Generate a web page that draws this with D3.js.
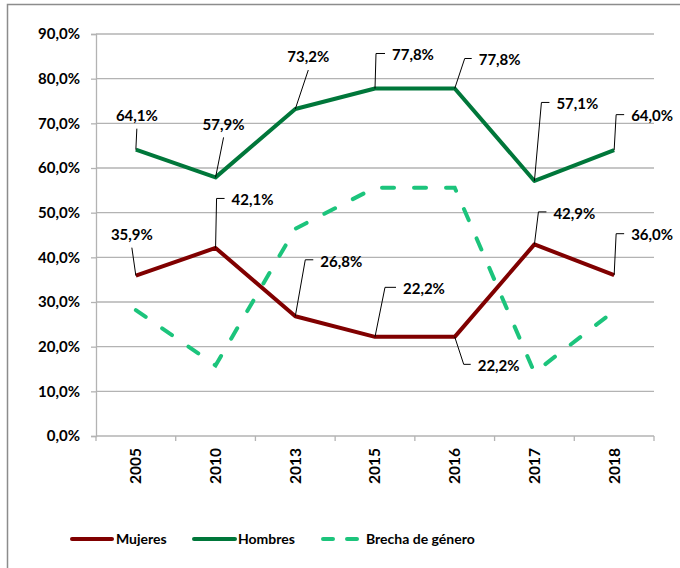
<!DOCTYPE html>
<html>
<head>
<meta charset="utf-8">
<script src="https://cdn.jsdelivr.net/npm/d3@7"></script>
<style>
  html, body { margin: 0; padding: 0; background: #fff; }
  svg { display: block; }
  text { font-family: Lato, "Open Sans", sans-serif; font-weight: bold; fill: #000; }
</style>
</head>
<body>
<svg id="chart" width="680" height="568"></svg>
<script>
// ---- data ----
const categories = ["2005", "2010", "2013", "2015", "2016", "2017", "2018"];
const mujeres = [35.9, 42.1, 26.8, 22.2, 22.2, 42.9, 36.0];
const hombres = [64.1, 57.9, 73.2, 77.8, 77.8, 57.1, 64.0];
const brecha  = [28.2, 15.8, 46.4, 55.6, 55.6, 14.2, 28.0];
const yTicks  = [0, 10, 20, 30, 40, 50, 60, 70, 80, 90];
const seriesNames = ["Mujeres", "Hombres", "Brecha de género"];

// ---- label layout (offsets from the point, px) ----
// [dx, dy, cornerDx]; cornerDx null => straight leader, text centred at dx
const hombresLabelLayout = [[1, -34, null], [8, -53, null], [13, -52, null], [17, -33.5, 1], [24, -28.5, 10], [22, -77, 7], [17, -34, 2]];
const mujeresLabelLayout = [[-4, -41, null], [16, -48, 1], [25, -55, 10], [28, -48, 10], [23, 29, 9], [19, -31, 4], [17, -40, 2]];

const colors = { mujeres: "#800000", hombres: "#00773a", brecha: "#1cc47c" };

const svg = d3.select("#chart");
const margin = { left: 96, right: 654, top: 34, bottom: 436 };

// frame
svg.append("path")
  .attr("d", `M7.5,${568 + 5} V4.5 H${680 + 5}`)
  .attr("fill", "none").attr("stroke", "#8c8c8c").attr("stroke-width", 1.5);

const x = d3.scaleBand().domain(categories).range([margin.left, margin.right]).padding(0);
const cx = c => x(c) + x.bandwidth() / 2;
const y = d3.scaleLinear().domain([0, 90]).range([margin.bottom, margin.top]);

const locale = d3.formatLocale({ decimal: ",", thousands: ".", grouping: [3], currency: ["", "€"] });
const fmtAxis = v => locale.format(".1f")(v) + "%";
const fmtLab = v => locale.format(".1f")(v) + "%";

const gridColor = "#b3b3b3";

// gridlines
svg.append("g").selectAll("line").data(yTicks.filter(t => t > 0)).join("line")
  .attr("x1", margin.left).attr("x2", margin.right)
  .attr("y1", d => y(d)).attr("y2", d => y(d))
  .attr("stroke", gridColor).attr("stroke-width", 1.3);

// y axis
const yAxis = svg.append("g").attr("transform", `translate(${margin.left},0)`)
  .call(d3.axisLeft(y).tickValues(yTicks).tickSize(5).tickPadding(11).tickFormat(fmtAxis));
yAxis.select(".domain").attr("stroke", gridColor).attr("stroke-width", 1.3);
yAxis.selectAll(".tick line").attr("stroke", gridColor).attr("stroke-width", 1.3);
yAxis.selectAll(".tick text").attr("font-size", 15).attr("font-family", "Lato").attr("font-weight", "bold");

// x axis
const xAxis = svg.append("g").attr("transform", `translate(0,${margin.bottom})`)
  .call(d3.axisBottom(x).tickSize(0).tickPadding(0));
xAxis.select(".domain").attr("d", `M${margin.left},0H${margin.right}`).attr("stroke", gridColor).attr("stroke-width", 1.3);
xAxis.selectAll(".tick text")
  .attr("font-size", 15.5).attr("font-family", "Lato").attr("font-weight", "bold")
  .attr("transform", "translate(0,12) rotate(-90)")
  .attr("text-anchor", "end").attr("x", 0).attr("y", 0).attr("dy", "0.35em");
// boundary ticks
const bounds = categories.map(c => x(c)).concat([x(categories[categories.length - 1]) + x.bandwidth()]);
xAxis.append("g").selectAll("line").data(bounds).join("line")
  .attr("x1", d => d).attr("x2", d => d).attr("y1", 0).attr("y2", 5)
  .attr("stroke", gridColor).attr("stroke-width", 1.3);

// lines
const line = d3.line().x((d, i) => cx(categories[i])).y(d => y(d));
svg.append("path").datum(brecha).attr("d", line).attr("fill", "none")
  .attr("stroke", colors.brecha).attr("stroke-width", 4).attr("stroke-dasharray", "12,20")
  .attr("stroke-linecap", "round");
svg.append("path").datum(mujeres).attr("d", line).attr("fill", "none")
  .attr("stroke", colors.mujeres).attr("stroke-width", 4).attr("stroke-linejoin", "round");
svg.append("path").datum(hombres).attr("d", line).attr("fill", "none")
  .attr("stroke", colors.hombres).attr("stroke-width", 4).attr("stroke-linejoin", "round");

// data labels
function drawLabels(values, layout) {
  const g = svg.append("g");
  values.forEach((v, i) => {
    const px = cx(categories[i]), py = y(v);
    const [dx, dy, corner] = layout[i];
    const ty = py + dy;
    let pts, anchor, tx;
    if (corner === null) {
      tx = px + dx; anchor = "middle";
      pts = [[px, py], [tx, ty + 13]];
    } else {
      tx = px + dx; anchor = "start";
      pts = [[px, py], [px + corner, ty - 1.5], [tx - 7, ty - 1.5]];
    }
    g.append("path").attr("d", d3.line()(pts)).attr("fill", "none")
      .attr("stroke", "#000").attr("stroke-width", 1);
    g.append("text").attr("x", tx).attr("y", ty).attr("dy", "0.35em")
      .attr("text-anchor", anchor).attr("font-size", 15).text(fmtLab(v));
  });
}
drawLabels(hombres, hombresLabelLayout);
drawLabels(mujeres, mujeresLabelLayout);

// legend
const legendY = 539;
const legendItems = [
  { name: seriesNames[0], color: colors.mujeres, x0: 72, x1: 112, tx: 116, dash: null },
  { name: seriesNames[1], color: colors.hombres, x0: 194, x1: 235, tx: 238, dash: null },
  { name: seriesNames[2], color: colors.brecha, x0: 323, x1: 357, tx: 366, dash: "10,14" }
];
const lg = svg.append("g");
legendItems.forEach(it => {
  lg.append("line").attr("x1", it.x0).attr("x2", it.x1).attr("y1", legendY).attr("y2", legendY)
    .attr("stroke", it.color).attr("stroke-width", 4)
    .attr("stroke-linecap", "round")
    .attr("stroke-dasharray", it.dash);
  lg.append("text").attr("x", it.tx).attr("y", legendY).attr("dy", "0.35em")
    .attr("font-size", 14).text(it.name);
});
</script>
</body>
</html>
